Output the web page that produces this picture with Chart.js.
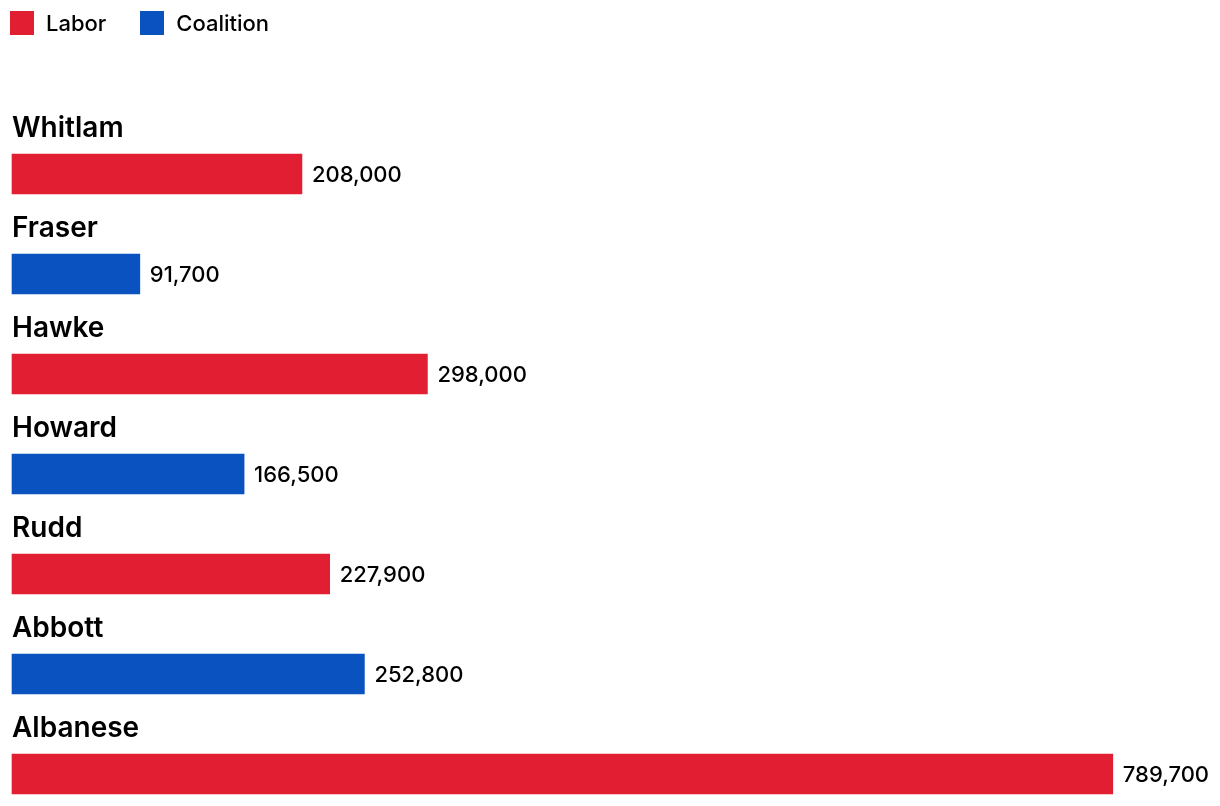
<!DOCTYPE html>
<html lang="en">
<head>
    <meta charset="UTF-8">
    <title>Prime ministers</title>
    <style>
        html, body {
            margin: 0;
            padding: 0;
            background: #fff;
            overflow: hidden;
        }
        .wrap {
            position: relative;
            width: 1220px;
            height: 806px;
        }
        .legend {
            position: absolute;
            left: 10px;
            top: 10px;
            display: flex;
            font-family: Inter, "Noto Sans", sans-serif;
            font-size: 22px;
            font-weight: 500;
            color: #000;
        }
        .legend span {
            display: flex;
            align-items: center;
            margin-right: 34px;
        }
        .legend i {
            display: inline-block;
            width: 24px;
            height: 24px;
            margin-right: 12px;
        }
    </style>
</head>
<body>
    <div class="wrap">
        <div class="legend" id="legend"></div>
        <canvas id="chart" width="1220" height="806"></canvas>
    </div>

    <script src="https://cdn.jsdelivr.net/npm/chart.js"></script>
    <script>
        // data
        const leaders = ['Whitlam', 'Fraser', 'Hawke', 'Howard', 'Rudd', 'Abbott', 'Albanese'];
        const parties = ['Labor', 'Coalition', 'Labor', 'Coalition', 'Labor', 'Coalition', 'Labor'];
        const values = [208000, 91700, 298000, 166500, 227900, 252800, 789700];

        const partyColors = { Labor: '#E21F32', Coalition: '#0A52BF' };
        const fontFamily = 'Inter, "Noto Sans", sans-serif';

        // legend
        const legendEl = document.getElementById('legend');
        Object.keys(partyColors).forEach(p => {
            const s = document.createElement('span');
            s.innerHTML = '<i style="background:' + partyColors[p] + '"></i>' + p;
            legendEl.appendChild(s);
        });

        // names above the bars and values to the right
        const labelPlugin = {
            id: 'barLabels',
            afterDatasetsDraw(chart) {
                const ctx = chart.ctx;
                const meta = chart.getDatasetMeta(0);
                const left = chart.chartArea.left;
                ctx.save();
                ctx.fillStyle = '#000';
                ctx.textBaseline = 'middle';
                meta.data.forEach((bar, i) => {
                    ctx.font = '600 28px ' + fontFamily;
                    ctx.textAlign = 'left';
                    ctx.fillText(leaders[i], left, bar.y - 45);
                    ctx.font = '500 22px ' + fontFamily;
                    ctx.fillText(values[i].toLocaleString('en-US'), bar.x + 10, bar.y + 1);
                });
                ctx.restore();
            }
        };

        new Chart(document.getElementById('chart'), {
            type: 'bar',
            data: {
                labels: leaders,
                datasets: [{
                    data: values,
                    backgroundColor: parties.map(p => partyColors[p]),
                    barThickness: 40,
                    borderWidth: 0,
                    clip: false
                }]
            },
            options: {
                indexAxis: 'y',
                responsive: false,
                animation: false,
                layout: {
                    padding: { top: 174, bottom: 32, left: 12, right: 12 }
                },
                plugins: {
                    legend: { display: false },
                    tooltip: { enabled: false }
                },
                scales: {
                    x: {
                        display: false,
                        min: 0,
                        max: 858000
                    },
                    y: {
                        display: false,
                        offset: false
                    }
                }
            },
            plugins: [labelPlugin]
        });
    </script>
</body>
</html>
